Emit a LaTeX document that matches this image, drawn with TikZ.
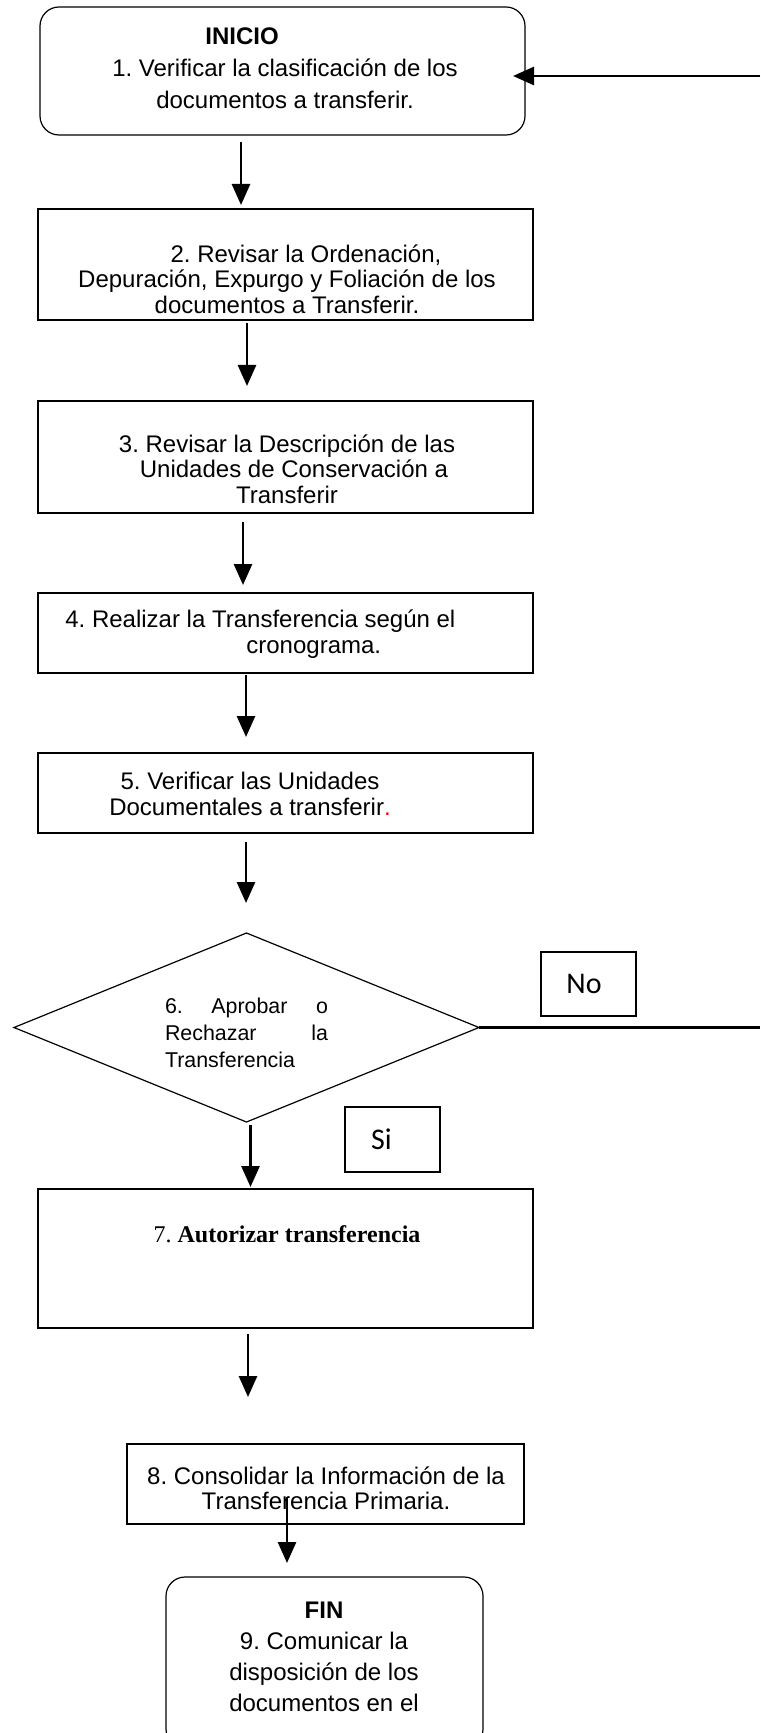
\documentclass[tikz,border=0pt]{standalone}
\usepackage{fontspec}
\setmainfont{Liberation Sans}
\newfontfamily\serifrm{Liberation Serif}
\newfontfamily\calib{Carlito}
\usepackage{tikz}
\usetikzlibrary{positioning,arrows.meta,shapes.geometric,calc}
\usepackage{xcolor}

\tikzset{
  stepbox/.style={draw, line width=0.6pt, inner sep=0pt, outer sep=0pt},
  roundbox/.style={stepbox, rounded corners=9.5pt},
  txt/.style={inner sep=0pt, align=center, font=\fontsize{12pt}{12.8pt}\selectfont},
  arr/.style={line width=1.4pt, -{Triangle[length=10.5pt,width=9pt]}},
  conn/.style={line width=1.4pt},
  tag/.style={stepbox, font=\calib\fontsize{15pt}{18pt}\selectfont}
}

\begin{document}
\frenchspacing
\begin{tikzpicture}[x=0.5pt,y=-0.5pt]
      \useasboundingbox (0,0) rectangle (760,1733);
      \fill[white] (0,0) rectangle (760,1733);
      \clip (0,0) rectangle (760,1733);
      % Process boxes
      \node[roundbox, minimum width=242.5pt, minimum height=64pt] (b1) at (282.5,71) {};
      \node[stepbox, minimum width=247.5pt, minimum height=55.5pt] (b2) at (285.5,264.5) {};
      \node[stepbox, minimum width=247.5pt, minimum height=56pt] (b3) at (285.5,457) {};
      \node[stepbox, minimum width=247.5pt, minimum height=40pt] (b4) at (285.5,633) {};
      \node[stepbox, minimum width=247.5pt, minimum height=40pt] (b5) at (285.5,793) {};
      \node[stepbox, diamond, minimum width=232.5pt, minimum height=94.5pt] (d6) at (246.5,1027.5) {};
      \node[stepbox, minimum width=247.5pt, minimum height=69.5pt] (b7) at (285.5,1258.5) {};
      \node[stepbox, minimum width=198.5pt, minimum height=40pt] (b8) at (325.5,1484) {};
      \node[roundbox, minimum width=158.5pt, minimum height=85.5pt] (b9) at (324.5,1662.5) {};
      % Branch tags
      \node[tag, minimum width=47.5pt, minimum height=32pt] (no) at (588.5,984) {No\hspace*{4.5pt}};
      \node[tag, minimum width=47.5pt, minimum height=32.5pt] (si) at (392.5,1139.5) {Si\hspace*{11pt}};
      % Texts
      \node[txt, font=\fontsize{12pt}{16pt}\selectfont] (t1) at (285,68)
        {\textbf{INICIO}\hspace*{43pt}\\1. Verificar la clasificación de los\\documentos a transferir.};
      \node[txt] (t2) at (287,279)
        {\hspace*{19pt}2. Revisar la Ordenación,\\Depuración, Expurgo y Foliación de los\\documentos a Transferir.};
      \node[txt] (t3) at (287,469)
        {3. Revisar la Descripción de las\\\hspace*{7pt}Unidades de Conservación a\\Transferir};
      \node[txt, align=left, anchor=west] (t4) at (65,634)
        {4. Realizar la Transferencia según el\\\hspace*{90.5pt}cronograma.};
      \node[txt] (t5) at (250,794)
        {5. Verificar las Unidades\\Documentales a transferir\textcolor{red}{.}};
      \node[inner sep=0pt, font=\fontsize{10.7pt}{13.5pt}\selectfont] (t6) at (246.5,1032.5)
        {\parbox{81.5pt}{6.\hfill Aprobar\hfill o\\Rechazar\hfill la\\Transferencia}};
      \node[txt, font=\serifrm\fontsize{12pt}{13.5pt}\selectfont] (t7) at (287,1234)
        {7. \textbf{Autorizar transferencia}};
      \node[txt, font=\fontsize{12pt}{12.5pt}\selectfont] (t8) at (326,1488)
        {8. Consolidar la Información de la\\Transferencia Primaria.};
      \node[txt, font=\fontsize{12pt}{15.5pt}\selectfont] (t9) at (324,1657)
        {\textbf{FIN}\\9. Comunicar la\\disposición de los\\documentos en el};
      % Flow arrows
      \draw[arr] ($(b1.south)+(-41.5,7)$) -- ($(b2.north)+(-44.5,-4)$);
      \draw[arr] ($(b2.south)+(-38.5,3)$) -- ($(b3.north)+(-38.5,-15)$);
      \draw[arr] ($(b3.south)+(-42.5,9)$) -- ($(b4.north)+(-42.5,-8)$);
      \draw[arr] ($(b4.south)+(-39.5,2)$) -- ($(b5.north)+(-39.5,-16)$);
      \draw[arr] ($(b5.south)+(-39.5,9)$) -- ($(d6.north)+(-0.5,-30)$);
      \draw[arr] ($(d6.south)+(4,3)$) -- ($(b7.north)+(-35,-2)$);
      \draw[arr] ($(b7.south)+(-37.5,6)$) -- ($(b8.north)+(-77.5,-47)$);
      \draw[arr] ($(b8.south)+(-38.5,-27)$) -- ($(b9.north)+(-37.5,-14)$);
      % Return loop (cut at the edge)
      \coordinate (back) at (760,76);
      \coordinate (rim) at (760,0);
      \draw[arr] (back) -- ($(b1.east)+(-12,5)$);
      \draw[conn] (d6.east) -- (d6.east -| rim);
\end{tikzpicture}
\end{document}
